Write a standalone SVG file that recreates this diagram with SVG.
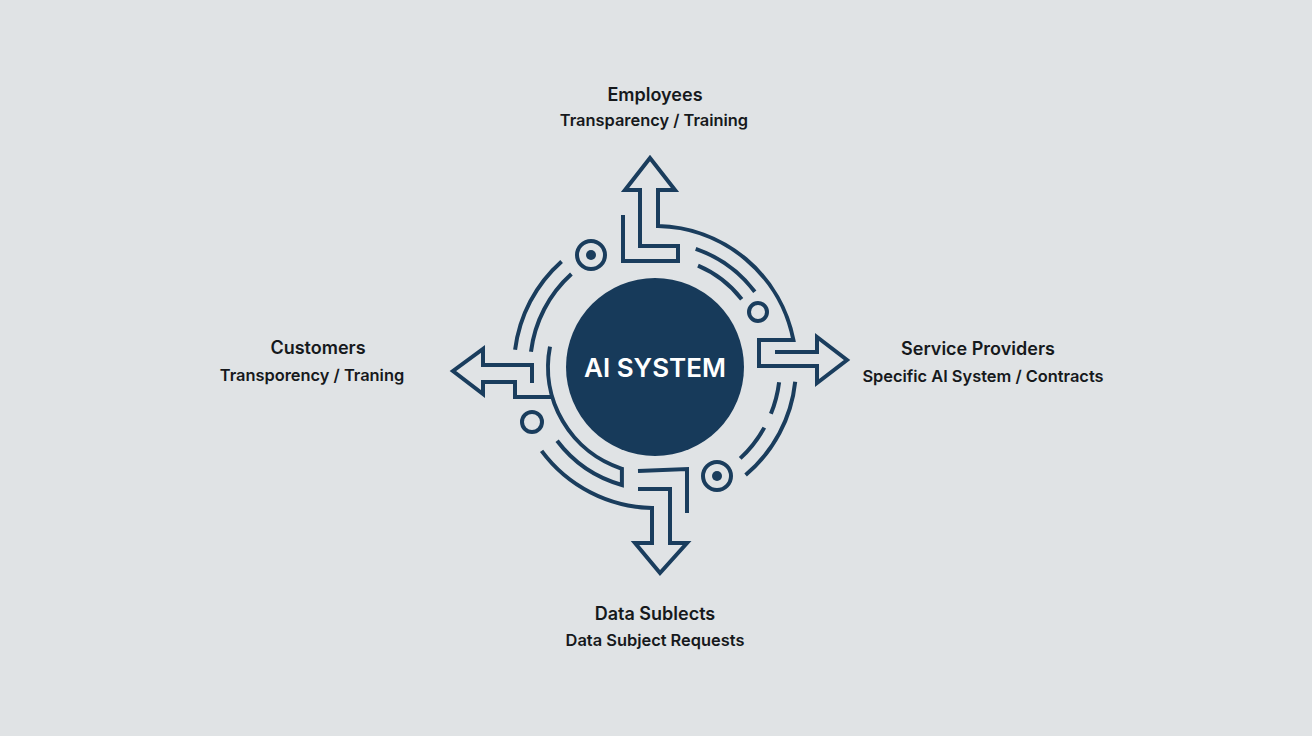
<svg xmlns="http://www.w3.org/2000/svg" width="1312" height="736" viewBox="0 0 1312 736">
<style>
.ln{fill:none;stroke:#1a3d5d;stroke-width:4;stroke-linejoin:miter;stroke-linecap:butt}
.ring{fill:none;stroke:#1a3d5d;stroke-width:4}
.dot{fill:#1a3d5d}
.t{font-family:Inter,"Open Sans",sans-serif;font-weight:600;fill:#16191c;text-anchor:middle}
.h{font-size:18px}
.s{font-size:16.4px}
</style>
<rect width="1312" height="736" fill="#e0e3e5"/>
<g id="connectors">
<path class="ln" d="M775,352 H817 V337 L847,360 L817,383 V366 H759 V340 H793.4 A141,141 0 0 0 658,226 V190 H675 L650,158 L625,190 H640 V246 H678 V261 H623 V215"/>
<path class="ln" d="M695.7,248.8 A125,125 0 0 1 754.8,291.8"/>
<path class="ln" d="M698,265.7 A110,110 0 0 1 741.7,299.3"/>
<path class="ln" d="M795.2,381.7 A141,141 0 0 1 745.6,475"/>
<path class="ln" d="M779.1,382.2 A125,125 0 0 1 770.9,413.8"/>
<path class="ln" d="M764.3,427.6 A125,125 0 0 1 740.2,458.4"/>
<path class="ln" d="M638,471 L687,469 V513"/>
<path class="ln" d="M638,489 H670 V543 H687 L660,573 L635,543 H652 V508 A141,141 0 0 1 541.6,450.9"/>
<path class="ln" d="M550,346.6 A107,107 0 0 0 621.9,468.8 V485 A122.6,122.6 0 0 1 557.1,440.8"/>
<path class="ln" d="M552,397 H515 V382 H483 V394 L453,371 L483,349 V365 H532 V383"/>
<path class="ln" d="M561.6,261.4 A141,141 0 0 0 515.1,349.8"/>
<path class="ln" d="M571.4,274.1 A125,125 0 0 0 531,351.8"/>
<circle class="ring" cx="758" cy="312" r="9"/>
<circle class="ring" cx="717" cy="476" r="14"/>
<circle class="dot" cx="717" cy="476" r="5"/>
<circle class="ring" cx="591" cy="255" r="14"/>
<circle class="dot" cx="591" cy="255" r="5"/>
<circle class="ring" cx="532" cy="422" r="10"/>
</g>
<g id="ai-system">
<circle cx="655" cy="367" r="89" fill="#173a5a"/>
<text x="655" y="377" font-family="Inter,'Open Sans',sans-serif" font-weight="600" font-size="26" fill="#ffffff" text-anchor="middle">AI SYSTEM</text>
</g>
<g id="employees">
<text class="t h" x="655" y="101">Employees</text>
<text class="t s" x="654" y="126">Transparency / Training</text>
</g>
<g id="customers">
<text class="t h" x="318" y="354">Customers</text>
<text class="t s" x="312" y="381">Transporency / Traning</text>
</g>
<g id="service-providers">
<text class="t h" x="978" y="355">Service Providers</text>
<text class="t s" x="983" y="382">Specific AI System / Contracts</text>
</g>
<g id="data-subjects">
<text class="t h" x="655" y="620">Data Sublects</text>
<text class="t s" x="655" y="646">Data Subject Requests</text>
</g>
</svg>
